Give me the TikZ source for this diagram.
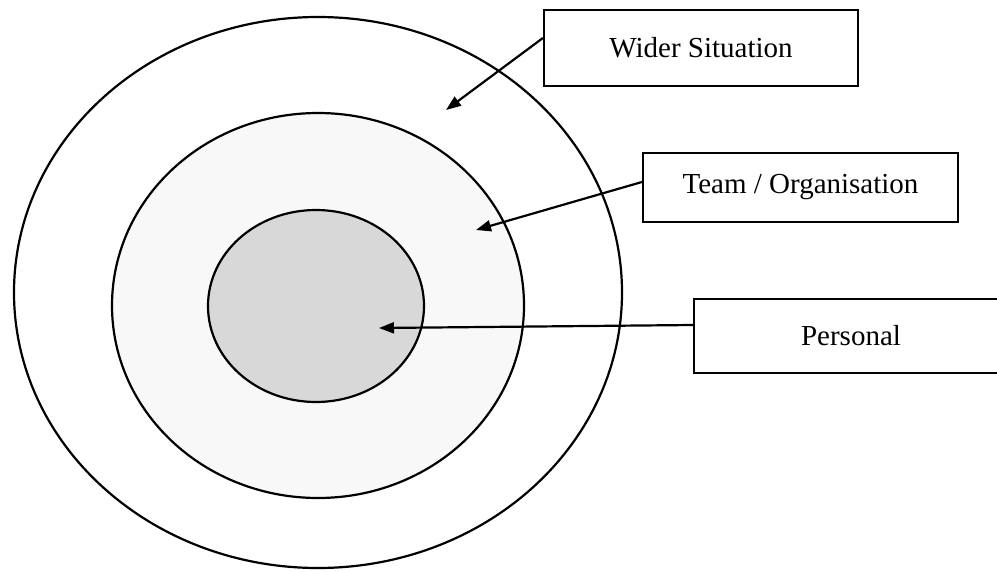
\documentclass[tikz,border=0pt]{standalone}
\usepackage{fontspec}
\setmainfont{Liberation Serif}
\usetikzlibrary{arrows.meta}

\definecolor{ringfill}{HTML}{F8F8F8}
\definecolor{corefill}{HTML}{D8D8D8}

\tikzset{
  ring/.style={draw=black, line width=2.2pt},
  labelbox/.style={draw=black, line width=2.2pt, fill=white, inner sep=0pt,
    font=\fontsize{29}{34}\selectfont, align=center},
  pointer/.style={draw=black, line width=2.2pt,
    -{Triangle[length=15pt, width=11pt]}}
}

\begin{document}
\begin{tikzpicture}[x=1pt, y=-1pt]
  \clip (0,0) rectangle (997,571);
  \fill[white] (0,0) rectangle (997,571);

  % three nested zones
  \draw[ring, fill=white]    (318,292.5) ellipse [x radius=304, y radius=275.5];
  \draw[ring, fill=ringfill] (318,305.5) ellipse [x radius=206, y radius=192.5];
  \draw[ring, fill=corefill] (316,306)   ellipse [x radius=108, y radius=96];

  % labels
  \node[labelbox, minimum width=314pt, minimum height=76pt] (wider)    at (701,48)    {Wider Situation};
  \node[labelbox, minimum width=315pt, minimum height=69pt] (team)     at (800.5,187.5) {Team / Organisation};
  \node[labelbox, minimum width=314pt, minimum height=74pt] (personal) at (851,336)   {Personal};

  % arrow tips inside each zone
  \coordinate (widerTip)    at (446,110);
  \coordinate (teamTip)     at (476,230);
  \coordinate (personalTip) at (379,328);

  \draw[pointer] ([yshift=10pt]wider.west)    -- (widerTip);
  \draw[pointer] ([yshift=5.5pt]team.west)    -- (teamTip);
  \draw[pointer] ([yshift=11pt]personal.west) -- (personalTip);
\end{tikzpicture}
\end{document}
